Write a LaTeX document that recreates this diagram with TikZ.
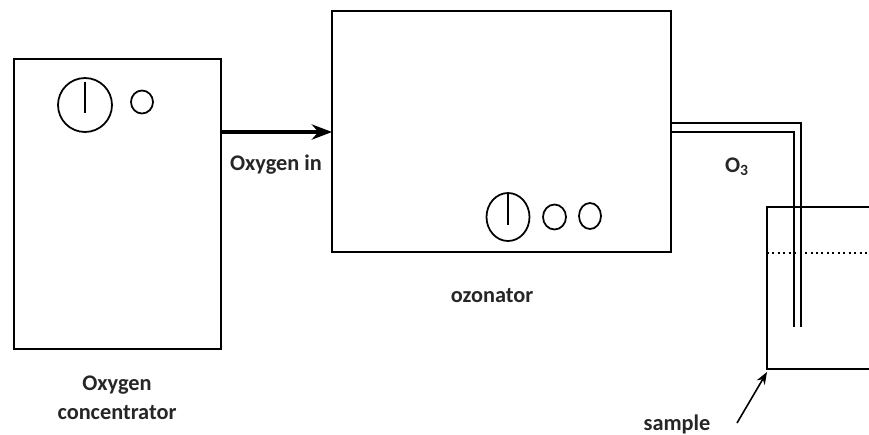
\documentclass[tikz,border=0pt]{standalone}
\usepackage{fontspec}
\setmainfont{Carlito}
\usepackage{tikz}
\usetikzlibrary{arrows.meta,shapes.geometric}

\tikzset{
  unitbox/.style={draw,line width=1.1pt,outer sep=0pt,inner sep=0pt},
  knob/.style={draw,ellipse,line width=1pt,outer sep=0pt,inner sep=0pt},
  tag/.style={font=\bfseries\fontsize{12.7}{16.5}\selectfont,align=center,text=black!85,inner sep=0pt},
  pipe/.style={line width=1.4pt,line cap=butt,line join=miter}
}

\begin{document}
\begin{tikzpicture}[>=Stealth,x=0.02cm,y=-0.02cm]
\useasboundingbox (0,0) rectangle (869,434);
% the two units
\node[unitbox,minimum width=4.14cm,minimum height=5.8cm] (concentrator) at (117.5,204) {};
\node[unitbox,minimum width=6.78cm,minimum height=4.82cm] (ozonator) at (501.5,131.5) {};
% dials
\node[knob,minimum width=1.08cm,minimum height=1.08cm] (dialA) at (85,105) {};
\node[knob,minimum width=0.44cm,minimum height=0.46cm] (lampA) at (142,102) {};
\draw[line width=1pt] (dialA.north) ++(0,4) -- ++(0,31);
\node[knob,minimum width=0.86cm,minimum height=0.96cm] (dialB) at (508,217) {};
\node[knob,minimum width=0.46cm,minimum height=0.5cm] (lampB) at (554.5,217) {};
\node[knob,minimum width=0.44cm,minimum height=0.52cm] (lampC) at (590,216) {};
\draw[line width=1pt] (dialB.north) -- ++(0,32);
% oxygen line
\draw[->,line width=1.9pt] (concentrator.east |- 0,132) -- (ozonator.west |- 0,132);
% sample vessel
\draw[line width=1.1pt] (869,207) -- (767,207) -- (767,369) -- (869,369);
\draw[line width=1.1pt,dotted] (767,253) -- (869,253);
% ozone tube
\draw[pipe] (ozonator.east |- 0,123) -- (801,123) -- (801,327);
\draw[pipe] (ozonator.east |- 0,132) -- (794,132) -- (794,327);
% labels
\node[tag] (inlabel) at (276,165) {Oxygen in};
\node[tag] (ozlabel) at (737,167) {O\textsubscript{3}};
\node[tag] (ozonatorlabel) at (492,296) {ozonator};
\node[tag] (concentratorlabel) at (117,397.5) {Oxygen\\concentrator};
\node[tag] (samplelabel) at (677,424) {sample};
\coordinate (samplecorner) at (767,372);
\draw[->,line width=0.9pt] (737,423) -- (samplecorner);
\end{tikzpicture}
\end{document}
